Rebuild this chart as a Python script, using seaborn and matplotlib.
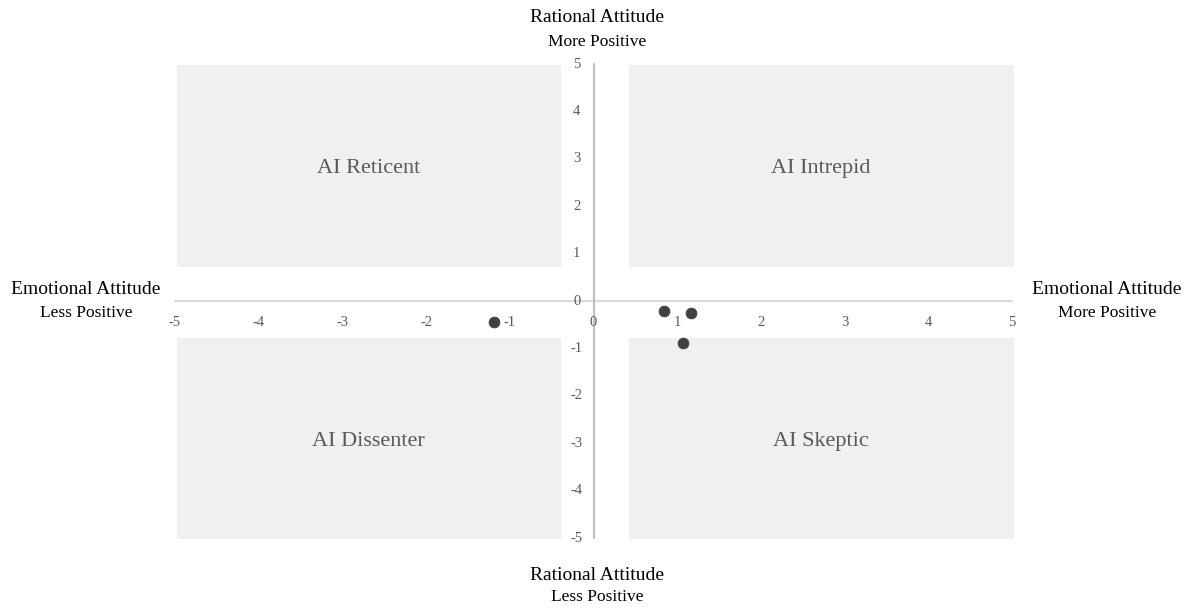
import matplotlib
matplotlib.use("Agg")
import matplotlib.pyplot as plt
import seaborn as sns
import pandas as pd
from matplotlib.patches import Rectangle

sns.set_theme(style="white")
plt.rcParams['font.family'] = ['Liberation Serif', 'DejaVu Serif']

# Data
emotional = [-1.19, 0.84, 1.17, 1.07]
rational = [-0.45, -0.22, -0.25, -0.88]
ticks = [-5, -4, -3, -2, -1, 0, 1, 2, 3, 4, 5]

quadrant_names = ["AI Reticent", "AI Intrepid", "AI Dissenter", "AI Skeptic"]
# (x0, x1, y0, y1) extents of the shaded quadrant boxes
quadrant_boxes = [(-4.98, -0.39, 0.72, 4.97),
                  (0.42, 5.02, 0.72, 4.97),
                  (-4.98, -0.39, -5.03, -0.79),
                  (0.42, 5.02, -5.03, -0.79)]

df = pd.DataFrame({"emotional": emotional, "rational": rational})

fig = plt.figure(figsize=(11.94, 6.08), dpi=100)
ax = fig.add_axes([175/1194, (608-538)/608, (1012-175)/1194, (538-64)/608])
ax.set_xlim(-5, 5)
ax.set_ylim(-5, 5)
for s in ax.spines.values():
    s.set_visible(False)
ax.set_xticks([])
ax.set_yticks([])
ax.patch.set_alpha(0)

for (x0, x1, y0, y1), name in zip(quadrant_boxes, quadrant_names):
    ax.add_patch(Rectangle((x0, y0), x1 - x0, y1 - y0, facecolor="#f0f0f0",
                           edgecolor="none", zorder=0, clip_on=False))
    ax.text((x0 + x1) / 2, (y0 + y1) / 2 - 0.05, name, ha="center", va="center",
            fontsize=16, color="#595959", zorder=1)

# axes lines
ax.plot([-5, 5], [0, 0], color="#d9d9d9", lw=1.5, zorder=2, clip_on=False)
ax.plot([0, 0], [-5, 5], color="#bfbfbf", lw=1.5, zorder=2, clip_on=False)

# tick labels
for t in ticks:
    ax.text(t, -0.45, f"{t}", ha="center", va="center", fontsize=10.5,
            color="#595959", zorder=3)
    ax.text(-0.2, t, f"{t}", ha="center", va="center", fontsize=10.5,
            color="#595959", zorder=3)

sns.scatterplot(data=df, x="emotional", y="rational", ax=ax, s=60,
                color="#404040", edgecolor="#404040", zorder=5, legend=False)
ax.set_xlabel("")
ax.set_ylabel("")

# outer axis titles
big, small = 14, 12.5
fig.text(597/1194, 1 - 18/608, "Rational Attitude", ha="center", va="center",
         fontsize=big, color="black")
fig.text(597/1194, 1 - 42/608, "More Positive", ha="center", va="center",
         fontsize=small, color="black")
fig.text(597/1194, 1 - 575/608, "Rational Attitude", ha="center", va="center",
         fontsize=big, color="black")
fig.text(597/1194, 1 - 597/608, "Less Positive", ha="center", va="center",
         fontsize=small, color="black")
fig.text(86/1194, 1 - 290/608, "Emotional Attitude", ha="center", va="center",
         fontsize=big, color="black")
fig.text(86/1194, 1 - 313/608, "Less Positive", ha="center", va="center",
         fontsize=small, color="black")
fig.text(1107/1194, 1 - 290/608, "Emotional Attitude", ha="center", va="center",
         fontsize=big, color="black")
fig.text(1107/1194, 1 - 313/608, "More Positive", ha="center", va="center",
         fontsize=small, color="black")

fig.savefig("out.png", dpi=100)
